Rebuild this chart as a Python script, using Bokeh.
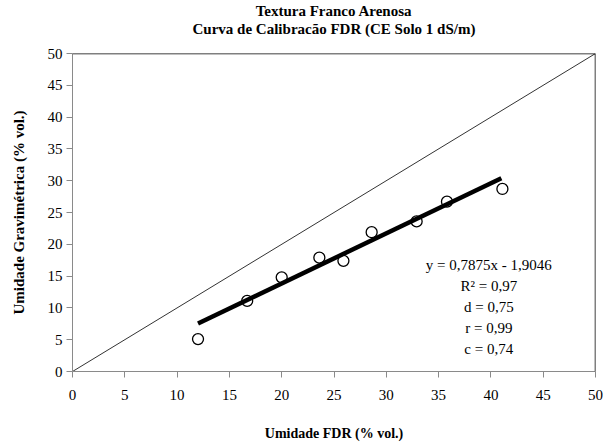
from bokeh.plotting import figure
from bokeh.models import Title, Span, FixedTicker, ColumnDataSource
from bokeh.core.properties import value
from bokeh.embed import file_html
from bokeh.resources import INLINE

# Data
fdr = [12.0, 16.7, 20.0, 23.6, 25.9, 28.6, 32.9, 35.8, 41.1]
grav = [5.1, 11.1, 14.8, 17.9, 17.4, 21.9, 23.6, 26.7, 28.7]
slope = 0.7875
intercept = -1.9046
fit_x = [12.0, 41.0]
fit_y = [slope * v + intercept for v in fit_x]
one_x = [0, 50]
one_y = [0, 50]
ticks = [0, 5, 10, 15, 20, 25, 30, 35, 40, 45, 50]
stats = ["y = 0,7875x - 1,9046", "R² = 0,97", "d = 0,75", "r = 0,99", "c = 0,74"]
title1 = "Textura Franco Arenosa"
title2 = "Curva de Calibracão FDR (CE Solo 1 dS/m)"
xlabel = "Umidade FDR (% vol.)"
ylabel = "Umidade Gravimétrica (% vol.)"

FONT = "Liberation Serif"

p = figure(width=603, height=446, x_range=(0, 50), y_range=(0, 50),
           output_backend="svg", toolbar_location=None,
           min_border_left=72, min_border_right=8, min_border_top=0,
           min_border_bottom=75)
p.outline_line_color = None
p.background_fill_color = "white"
p.border_fill_color = "white"
p.xgrid.visible = False
p.ygrid.visible = False

# spacer between the title block and the frame
p.add_layout(Title(text=" ", text_font=FONT, text_font_size="13px", standoff=0), "above")
for ttl in [title2, title1]:
    t = Title(text=ttl, align="center", text_font=FONT, text_font_size="15px",
              text_font_style="bold", text_color="black", standoff=0)
    p.add_layout(t, "above")

for ax in [p.xaxis[0], p.yaxis[0]]:
    ax.ticker = FixedTicker(ticks=ticks)
    ax.axis_line_color = "#8a8a8a"
    ax.major_tick_line_color = "#8a8a8a"
    ax.major_tick_in = 0
    ax.major_tick_out = 6
    ax.minor_tick_line_color = None
    ax.major_label_text_font = FONT
    ax.major_label_text_font_size = "15px"
    ax.major_label_text_color = "black"
    ax.axis_label_text_font = FONT
    ax.axis_label_text_font_style = "bold"
    ax.axis_label_text_color = "black"

p.xaxis.axis_label = xlabel
p.yaxis.axis_label = ylabel
p.xaxis.axis_label_text_font_size = "14px"
p.yaxis.axis_label_text_font_size = "15px"
p.xaxis.axis_label_standoff = 23
p.yaxis.axis_label_standoff = 18
p.xaxis.major_label_standoff = 12
p.yaxis.major_label_standoff = 4

p.add_layout(Span(location=50, dimension="width", line_color="black", line_width=1.5))
p.add_layout(Span(location=50, dimension="height", line_color="black", line_width=1.5))

p.line(one_x, one_y, line_color="#333333", line_width=1)
p.line(fit_x, fit_y, line_color="black", line_width=4.5)
p.scatter(fdr, grav, marker="circle", size=11, fill_color="white", fill_alpha=0,
          line_color="black", line_width=1.3)

# stats annotation
sx = 39.8
sy0 = 16.8
step = 3.3
src = ColumnDataSource(dict(x=[sx] * len(stats),
                            y=[sy0 - i * step for i in range(len(stats))],
                            t=stats))
p.text(x="x", y="y", text="t", source=src, text_font=value(FONT),
       text_font_size="15px", text_align="center", text_baseline="middle",
       text_color="black")

open("out.html", "w").write(file_html(p, INLINE))
